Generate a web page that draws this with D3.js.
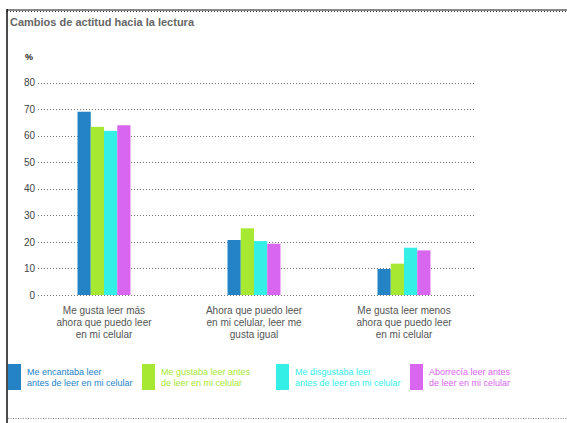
<!DOCTYPE html>
<html lang="es">
<head>
    <meta charset="UTF-8">
    <title>Cambios de actitud hacia la lectura</title>
    <script src="https://d3js.org/d3.v7.min.js"></script>
</head>
<style>
    body { margin: 0; background: #fff; }
    text { font-family: "Liberation Sans", Arial, sans-serif; }
    .grid line { stroke: #777; stroke-dasharray: 1,2; }
</style>
<body>
<svg width="567" height="423"></svg>
<script>
    // datos
    var categories = [
        ["Me gusta leer más", "ahora que puedo leer", "en mi celular"],
        ["Ahora que puedo leer", "en mi celular, leer me", "gusta igual"],
        ["Me gusta leer menos", "ahora que puedo leer", "en mi celular"]
    ];
    var seriesNames = [
        ["Me encantaba leer", "antes de leer en mi celular"],
        ["Me gustaba leer antes", "de leer en mi celular"],
        ["Me disgustaba leer", "antes de leer en mi celular"],
        ["Aborrecía leer antes", "de leer en mi celular"]
    ];
    var encantaba = [69, 20.7, 9.8];
    var gustaba = [63.3, 25.1, 11.8];
    var disgustaba = [61.8, 20.3, 17.8];
    var aborrecia = [63.9, 19.3, 16.8];
    var yTicks = [0, 10, 20, 30, 40, 50, 60, 70, 80];
    var colors = ["#2483c5", "#a6e832", "#33efe6", "#d966ef"];

    var series = [encantaba, gustaba, disgustaba, aborrecia];

    var svg = d3.select("svg");

    // marco
    svg.append("line").attr("x1", 7).attr("x2", 567).attr("y1", 10).attr("y2", 10)
        .attr("stroke", "#888").attr("stroke-width", 2);
    svg.append("line").attr("x1", 7).attr("x2", 567).attr("y1", 11.5).attr("y2", 11.5)
        .attr("stroke", "#333").attr("stroke-dasharray", "1,2");
    svg.append("line").attr("x1", 7).attr("x2", 7).attr("y1", 9).attr("y2", 423)
        .attr("stroke", "#111").attr("stroke-width", 1.5);
    svg.append("line").attr("x1", 8).attr("x2", 567).attr("y1", 418.5).attr("y2", 418.5)
        .attr("stroke", "#888").attr("stroke-dasharray", "1,1.5");

    svg.append("text").attr("x", 10).attr("y", 26)
        .attr("font-size", "11px").attr("font-weight", "bold").attr("fill", "#666")
        .text("Cambios de actitud hacia la lectura");

    svg.append("text").attr("x", 25).attr("y", 60)
        .attr("font-size", "9px").attr("font-weight", "bold").attr("fill", "#222")
        .text("%");

    var y = d3.scaleLinear().domain([0, 80]).range([295, 82.5]);
    var x0 = d3.scaleBand().domain(d3.range(categories.length))
        .range([29, 479]).paddingInner(0.647).paddingOuter(0.3235);
    var x1 = d3.scaleBand().domain(d3.range(series.length))
        .range([0, x0.bandwidth()]);

    // cuadrícula
    var grid = svg.append("g").attr("class", "grid");
    grid.selectAll("line").data(yTicks).enter().append("line")
        .attr("x1", 38).attr("x2", 474)
        .attr("y1", function(d) { return Math.round(y(d)) + 0.5; })
        .attr("y2", function(d) { return Math.round(y(d)) + 0.5; });

    var yAxis = svg.append("g").attr("transform", "translate(35,0)")
        .call(d3.axisLeft(y).tickValues(yTicks).tickSize(0).tickPadding(0));
    yAxis.select(".domain").remove();
    yAxis.selectAll("text").attr("font-size", "10px").attr("fill", "#444")
        .attr("font-family", "Liberation Sans, Arial, sans-serif");

    // barras
    var groups = svg.append("g").selectAll("g")
        .data(categories).enter().append("g")
        .attr("transform", function(d, i) { return "translate(" + x0(i) + ",0)"; });

    groups.selectAll("rect")
        .data(function(d, i) { return series.map(function(s, k) { return {k: k, v: s[i]}; }); })
        .enter().append("rect")
        .attr("x", function(d) { return x1(d.k); })
        .attr("width", x1.bandwidth())
        .attr("y", function(d) { return y(d.v); })
        .attr("height", function(d) { return y(0) - y(d.v); })
        .attr("fill", function(d) { return colors[d.k]; });

    // etiquetas de categoría
    groups.append("text")
        .attr("text-anchor", "middle")
        .attr("x", x0.bandwidth() / 2)
        .attr("y", 314)
        .attr("font-size", "10px").attr("fill", "#555")
        .selectAll("tspan").data(function(d) { return d; }).enter().append("tspan")
        .attr("x", x0.bandwidth() / 2)
        .attr("dy", function(d, i) { return i === 0 ? 0 : 12.2; })
        .text(function(d) { return d; });

    // leyenda
    var legendX = [8, 142, 276, 410];
    var legend = svg.append("g").selectAll("g")
        .data(seriesNames).enter().append("g")
        .attr("transform", function(d, i) { return "translate(" + legendX[i] + ",364)"; });
    legend.append("rect").attr("width", 13).attr("height", 26)
        .attr("fill", function(d, i) { return colors[i]; });
    legend.append("text")
        .attr("x", 19).attr("y", 11)
        .attr("font-size", "9px")
        .attr("fill", function(d, i) { return colors[i]; })
        .selectAll("tspan").data(function(d) { return d; }).enter().append("tspan")
        .attr("x", 19)
        .attr("dy", function(d, i) { return i === 0 ? 0 : 10.5; })
        .text(function(d) { return d; });
</script>
</body>
</html>
